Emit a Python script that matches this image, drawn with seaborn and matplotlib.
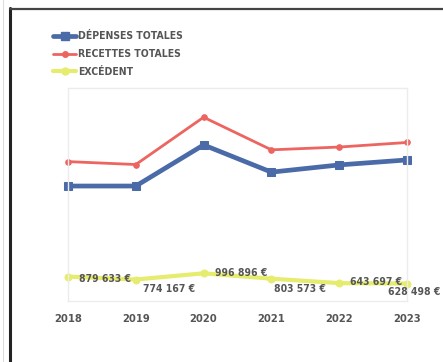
import matplotlib
matplotlib.use("Agg")
import matplotlib.pyplot as plt
import seaborn as sns
import pandas as pd
from matplotlib.lines import Line2D

# Budget data (euros)
annees = [2018, 2019, 2020, 2021, 2022, 2023]
depenses = [4140000, 4140000, 5620000, 4640000, 4900000, 5080000]
excedent = [879633, 774167, 996896, 803573, 643697, 628498]
recettes = [d + e for d, e in zip(depenses, excedent)]

series_names = ["DÉPENSES TOTALES", "RECETTES TOTALES", "EXCÉDENT"]
colors = ["#4A6BA8", "#EC6560", "#E6EC6E"]

df = pd.DataFrame({
    "annee": annees * 3,
    "valeur": depenses + recettes + excedent,
    "serie": [series_names[0]] * 6 + [series_names[1]] * 6 + [series_names[2]] * 6,
})

sns.set_theme(style="white")
plt.rcParams["font.family"] = ["DejaVu Sans"]
plt.rcParams["font.stretch"] = "condensed"
txt_color = "#555555"

W, H = 443, 362
fig = plt.figure(figsize=(W / 100, H / 100), dpi=100)
fig.patch.set_facecolor("white")

# outer frame of the panel
fig.add_artist(Line2D([10 / W, 10 / W], [0, 1 - 8 / H], color="#222222", lw=2.2))
fig.add_artist(Line2D([10 / W, 1], [1 - 8.5 / H, 1 - 8.5 / H], color="#444444", lw=1.6))
fig.add_artist(Line2D([3 / W, 3 / W], [0, 1], color="#dddddd", lw=0.8))

ax = fig.add_axes([68 / W, 1 - 301 / H, (407 - 68) / W, (301 - 88) / H])

styles = {
    series_names[0]: dict(lw=3.4, marker="s", ms=6.0),
    series_names[1]: dict(lw=2.0, marker="o", ms=4.0),
    series_names[2]: dict(lw=3.0, marker="o", ms=5.0),
}
for name, col in zip(series_names, colors):
    sub = df[df["serie"] == name]
    st = styles[name]
    sns.lineplot(data=sub, x="annee", y="valeur", ax=ax, color=col,
                 linewidth=st["lw"], marker=st["marker"], markersize=st["ms"],
                 markeredgecolor=col, clip_on=False, legend=False)

ax.set_xlim(annees[0], annees[-1])
ax.set_ylim(0, 7.67e6)
ax.set_xlabel("")
ax.set_ylabel("")
ax.set_yticks([])
ax.set_xticks(annees)
ax.set_xticklabels([str(a) for a in annees], fontsize=8, color=txt_color,
                   fontweight="bold")
ax.tick_params(axis="x", length=0, pad=9)
for s in ax.spines.values():
    s.set_color("#ececec")
    s.set_linewidth(1.0)

# value labels for the surplus series
offsets = [(8, -1.5), (5, -7), (8, 0), (2, -7.5), (8, 0.5), (-14, -6)]
for a, v, (dx, dy) in zip(annees, excedent, offsets):
    lab = f"{v:,}".replace(",", " ") + " €"
    ax.annotate(lab, (a, v), xytext=(dx, dy), textcoords="offset points",
                ha="left", va="center", fontsize=7.5, color=txt_color,
                fontweight="bold", annotation_clip=False)

# legend
handles = [
    Line2D([], [], color=colors[0], lw=3.4, marker="s", ms=6.0),
    Line2D([], [], color=colors[1], lw=2.0, marker="o", ms=4.0),
    Line2D([], [], color=colors[2], lw=3.0, marker="o", ms=5.0),
]
leg = fig.legend(handles, series_names, loc="upper left",
                 bbox_to_anchor=(44 / W, 1 - 22 / H), frameon=False,
                 handlelength=2.2, handletextpad=0.15, labelspacing=0.75,
                 prop={"size": 7.5, "weight": "bold", "stretch": "condensed"})
for t in leg.get_texts():
    t.set_color(txt_color)

fig.savefig("out.png", dpi=100)
